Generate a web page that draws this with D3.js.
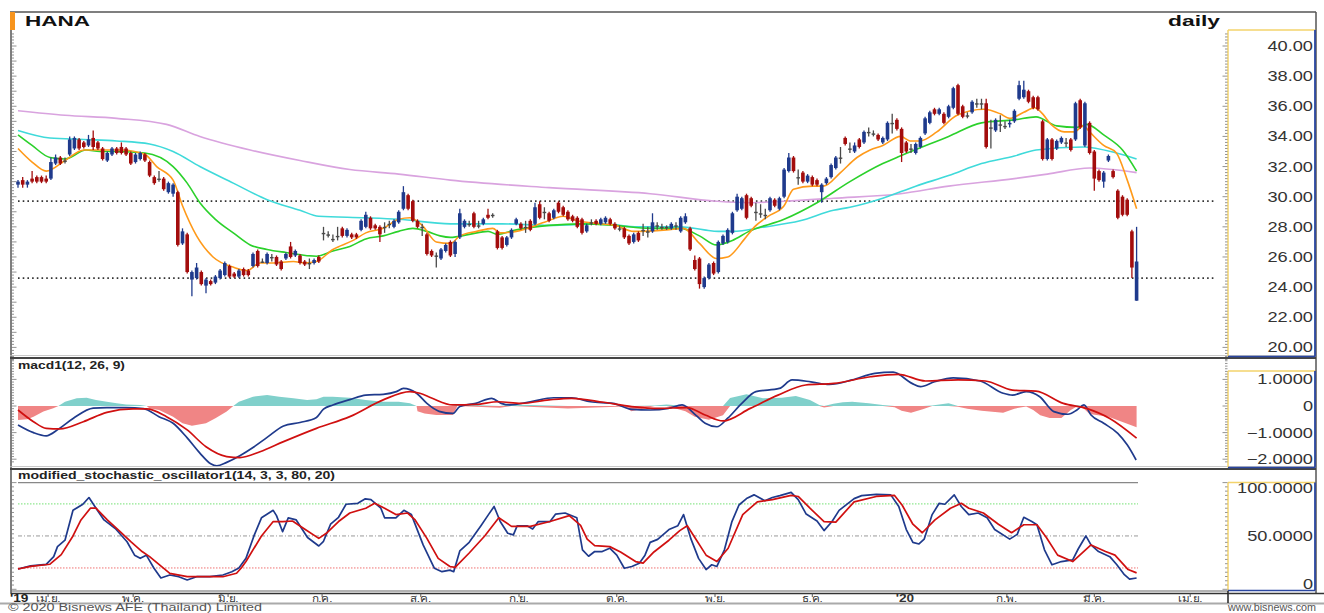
<!DOCTYPE html>
<html><head><meta charset="utf-8">
<script src="https://cdn.jsdelivr.net/npm/d3@7"></script>
<style>
html,body{margin:0;padding:0;background:#fff;overflow:hidden;}
svg{display:block;}
text{font-family:"Liberation Sans",Arial,sans-serif;}
</style></head><body>
<svg id="c" width="1324" height="613"></svg>
<script>
// ---------------- DATA ----------------
const symbol = "HANA";
const period = "daily";
// daily candles [open, high, low, close], late Mar 2019 .. mid Mar 2020
const candles = [
[30.8,31.1,30.6,31.0],[31.1,31.3,30.6,30.8],[30.8,31.1,30.6,31.0],[31.2,31.7,30.9,31.0],[31.3,31.4,30.9,31.0],
[31.3,31.4,30.9,31.0],[31.2,31.4,30.9,31.0],[31.2,32.6,31.1,32.3],[32.2,32.8,32.1,32.6],[32.6,32.7,32.1,32.2],
[32.4,32.6,32.2,32.4],[32.8,34.0,32.7,33.8],[33.2,34.0,33.1,33.9],[33.8,33.9,33.1,33.2],[33.6,33.7,33.2,33.3],
[33.4,34.1,33.3,33.8],[33.9,34.4,33.1,33.3],[33.6,33.7,33.1,33.2],[33.2,33.3,32.4,32.5],[32.4,33.0,32.3,32.9],
[32.8,33.3,32.7,33.2],[33.2,33.3,32.8,32.9],[33.3,33.6,32.8,32.9],[33.2,33.3,32.7,32.8],[32.9,33.0,32.1,32.2],
[32.3,32.9,32.2,32.8],[32.5,33.0,32.4,32.9],[32.8,32.9,32.3,32.4],[32.3,32.4,31.3,31.4],[31.3,31.4,30.8,30.9],
[31.2,31.7,31.0,31.2],[31.2,31.3,30.4,30.5],[30.3,31.0,30.2,30.9],[30.2,30.9,30.0,30.8],[30.3,30.4,26.7,26.8],
[26.9,27.9,26.8,27.7],[27.5,27.6,24.9,25.0],[24.5,25.1,23.4,25.0],[24.6,25.6,24.5,25.3],[25.0,25.1,24.1,24.2],
[24.1,24.6,23.6,24.5],[24.4,24.5,24.1,24.2],[24.3,24.8,24.2,24.7],[24.6,25.2,24.5,25.1],[24.8,25.7,24.7,25.6],
[25.4,25.5,24.6,24.7],[24.9,25.0,24.6,24.7],[24.7,25.2,24.6,25.1],[25.2,25.3,24.7,24.8],[25.1,25.2,24.7,24.8],
[25.4,26.3,25.3,26.2],[26.4,26.5,25.3,25.4],[25.7,25.9,25.6,25.7],[25.6,26.3,25.5,26.2],[26.0,26.2,25.7,26.0],
[26.0,26.1,25.4,25.5],[25.7,25.8,25.1,25.2],[25.9,26.3,25.8,26.2],[26.7,27.0,25.9,26.0],[26.1,26.5,26.0,26.4],
[26.1,26.2,25.5,25.6],[25.7,25.8,25.4,25.5],[25.6,25.9,25.2,25.6],[25.6,25.9,25.5,25.8],[26.0,26.1,25.6,25.7],
[27.6,28.0,27.1,27.6],[27.5,27.7,27.3,27.5],[27.2,27.5,27.0,27.2],[27.4,28.0,27.1,27.4],[27.9,28.0,27.3,27.4],
[27.4,27.9,27.3,27.8],[27.5,27.6,27.2,27.3],[27.5,27.6,27.2,27.3],[27.8,28.5,27.7,28.4],[28.0,29.0,27.9,28.8],
[28.6,28.7,27.8,27.9],[28.1,28.2,27.8,27.9],[28.0,28.1,27.0,27.5],[28.0,28.3,27.6,28.0],[28.2,28.4,27.9,28.2],
[28.0,28.5,27.9,28.4],[28.3,29.1,28.2,29.0],[29.2,30.7,29.1,30.3],[30.1,30.2,29.1,29.2],[29.7,29.8,28.3,28.4],
[28.4,28.5,27.9,28.0],[28.0,28.2,27.4,28.0],[27.5,27.6,26.1,26.2],[26.4,26.5,26.0,26.1],[26.1,26.3,25.3,26.1],
[25.9,26.6,25.8,26.5],[26.4,26.9,26.3,26.8],[27.0,27.1,26.0,26.1],[26.2,27.1,26.0,27.0],[27.3,29.2,27.2,28.9],
[28.0,28.5,27.9,28.4],[28.2,28.4,28.0,28.2],[28.9,29.0,27.9,28.0],[28.1,28.4,27.9,28.1],[28.2,28.6,28.1,28.5],
[28.8,29.2,28.5,28.6],[28.8,28.9,28.6,28.8],[27.7,27.8,26.5,26.6],[27.3,27.4,26.5,26.6],[26.8,27.4,26.7,27.3],
[27.3,27.9,27.2,27.8],[28.2,28.6,28.1,28.5],[28.2,28.3,27.8,27.9],[28.0,28.4,27.6,28.0],[28.4,28.5,27.7,27.8],
[28.2,29.6,28.1,29.3],[29.5,29.7,28.5,28.6],[29.0,29.3,28.5,29.0],[28.9,29.0,28.3,28.4],[28.6,29.2,28.5,29.1],
[29.6,29.7,28.9,29.0],[29.3,29.4,28.7,28.8],[29.0,29.1,28.4,28.5],[28.7,28.8,28.3,28.4],[28.6,28.7,27.9,28.0],
[28.5,28.6,27.5,27.6],[27.7,28.2,27.6,28.1],[28.3,28.5,28.1,28.3],[28.4,28.5,28.1,28.2],[28.2,28.6,28.1,28.5],
[28.3,28.7,28.2,28.6],[28.5,28.6,28.1,28.2],[28.2,28.3,27.8,27.9],[27.9,28.1,27.7,27.9],[27.9,28.0,27.2,27.3],
[27.4,27.5,26.8,26.9],[27.0,27.6,26.9,27.5],[27.6,27.7,27.0,27.1],[27.8,28.2,27.4,27.8],[27.7,28.0,27.3,27.7],
[27.7,28.9,27.6,28.3],[28.1,28.3,27.8,28.1],[28.0,28.2,27.8,28.0],[28.0,28.1,27.8,28.0],[27.9,28.3,27.8,28.2],
[28.1,28.3,27.8,28.1],[27.7,28.7,27.6,28.6],[28.3,28.9,28.2,28.7],[27.9,28.0,26.4,26.5],[25.8,26.1,25.1,25.2],
[25.9,26.0,23.9,24.2],[24.0,24.7,23.9,24.6],[24.6,25.6,24.5,25.5],[25.6,25.7,24.8,24.9],[25.0,27.1,24.9,27.0],
[26.9,27.5,26.8,27.4],[27.0,27.9,26.9,27.8],[27.6,29.0,27.5,28.9],[29.1,30.2,29.0,30.0],[29.2,30.0,29.1,29.9],
[30.1,30.2,28.5,28.6],[29.9,30.0,29.3,29.4],[29.0,29.6,28.4,29.0],[28.9,29.5,28.6,28.9],[28.8,29.2,28.5,28.8],
[29.1,30.0,29.0,29.9],[29.8,29.9,29.3,29.4],[29.2,30.0,29.1,29.9],[30.0,31.9,29.9,31.8],[31.7,32.9,31.6,32.6],
[32.6,32.7,31.6,31.7],[31.3,31.8,30.8,31.3],[31.6,31.7,30.9,31.0],[31.0,31.5,30.9,31.4],[31.3,31.4,30.7,30.8],
[31.1,31.2,30.7,30.8],[30.3,30.9,29.6,30.8],[30.9,31.3,30.8,31.2],[31.3,32.2,31.2,32.1],[31.9,32.7,31.8,32.6],
[32.6,33.3,32.2,32.6],[33.9,34.0,33.4,33.5],[33.2,33.6,32.9,33.2],[33.0,33.6,32.9,33.4],[33.8,33.9,33.2,33.3],
[33.6,34.4,33.5,34.3],[34.3,34.6,34.0,34.3],[34.2,34.4,34.0,34.2],[34.1,34.2,33.7,33.8],[33.6,34.0,33.5,33.9],
[33.8,35.0,33.7,34.9],[34.9,35.5,34.2,34.9],[35.1,35.2,34.4,34.5],[34.5,34.6,32.3,32.9],[33.6,33.7,32.9,33.0],
[33.2,33.5,32.9,33.2],[32.9,33.6,32.8,33.5],[33.3,34.0,33.2,33.9],[34.2,35.3,34.1,35.2],[34.9,35.7,34.8,35.6],
[35.8,35.9,35.4,35.5],[35.5,35.9,35.4,35.8],[35.5,35.6,34.8,34.9],[35.3,36.1,35.2,36.0],[35.9,37.3,35.8,37.2],
[37.4,37.5,35.4,35.5],[36.0,36.1,35.2,35.3],[35.4,35.6,35.2,35.4],[35.6,36.4,35.5,36.3],[36.2,36.5,35.9,36.2],
[36.2,36.5,35.8,36.2],[36.2,36.5,33.2,33.3],[34.6,35.1,33.2,34.6],[34.4,35.2,34.3,35.1],[34.8,35.4,34.3,34.8],
[34.7,35.0,34.5,34.7],[34.8,35.1,34.6,34.9],[35.0,35.8,34.9,35.7],[36.5,37.7,36.4,37.4],[36.6,37.7,36.5,37.1],
[37.0,37.1,36.2,36.3],[36.6,36.7,35.8,35.9],[36.6,36.7,35.7,35.8],[35.0,35.1,32.4,32.5],[32.5,33.9,32.4,33.8],
[33.8,33.9,32.4,32.5],[33.2,33.8,33.1,33.7],[33.6,34.0,33.5,33.9],[33.6,33.9,33.3,33.6],[33.8,33.9,33.0,33.1],
[33.8,36.3,33.7,36.2],[36.4,36.5,34.5,34.6],[33.4,36.3,33.3,36.2],[34.9,35.0,32.8,32.9],[33.0,33.1,30.4,31.2],
[31.7,31.8,31.0,31.1],[31.0,31.7,30.6,31.6],[32.4,32.8,32.3,32.7],[31.7,31.8,31.2,31.3],[30.4,30.5,28.5,28.6],
[30.0,30.1,28.7,28.8],[29.8,29.9,28.7,28.8],[27.7,27.8,24.6,25.3],[23.1,28.0,23.1,25.7]
];
// moving averages, sampled [bar index, value]
const maFast = [[0,33.2],[3,32.3],[6,31.7],[10,32.4],[14,33.1],[18,33.1],[22,33.1],[27,32.8],[29.5,32.0],[33,31.1],[35,29.4],[38,27.4],[41.5,26.0],[46,25.3],[48.7,25.1],[51.5,25.6],[54,25.6],[58.6,25.7],[61,25.6],[63.5,25.7],[67,26.5],[71.3,27.1],[74,27.6],[77.7,27.9],[81,28.5],[83.4,28.6],[86,28.1],[89,27.0],[92,26.9],[94,27.4],[97.6,27.7],[101,27.9],[102.6,27.6],[106,27.7],[112,28.3],[116,28.7],[119,28.4],[124,28.2],[127,28.1],[131,27.7],[138,27.8],[141.6,27.9],[145,26.9],[148.6,25.9],[151,26.0],[154.6,27.2],[156.7,28.0],[159.6,28.7],[163,29.4],[165,30.5],[169,30.7],[171.4,30.7],[175,31.6],[178.5,32.6],[181.3,33.1],[184,33.4],[187.8,34.0],[189.8,33.7],[191.9,33.7],[195.5,34.3],[199.8,35.4],[205.5,35.8],[209,35.5],[211,35.2],[214,35.6],[216.3,35.9],[217.7,35.6],[219.8,34.8],[222.6,34.3],[224.7,34.3],[226.7,34.7],[228,34.3],[231,33.4],[233.7,32.9],[235.9,31.2],[238,29.2]];
const maMid = [[0,34.1],[3,33.4],[6.8,32.6],[10,32.5],[14.5,33.1],[17.4,33.0],[21,33.0],[27,32.9],[33,32.0],[36,30.9],[38.7,29.6],[42,28.5],[45.8,27.6],[49.4,26.8],[53,26.5],[57,26.3],[63.5,26.05],[67,26.4],[70.6,26.7],[74,27.2],[77.7,27.4],[81,27.7],[84,27.9],[87,27.7],[89.8,27.4],[92,27.3],[96,27.5],[100,27.7],[102,27.5],[106,27.8],[113,28.1],[120,28.2],[127,28.1],[134.5,27.9],[141,27.9],[145,27.4],[148.6,26.8],[152,27.1],[155.5,27.7],[163,28.5],[170,29.6],[177,31.0],[184,32.2],[187.7,32.7],[198,34.0],[205,34.9],[212,35.1],[216.6,35.3],[221,34.7],[225.3,34.6],[227.4,34.8],[231,34.1],[235,33.1],[238,31.7]];
const maSlow = [[0,34.4],[6.8,33.9],[14,33.8],[21,33.7],[28,33.5],[33,33.0],[38.7,32.0],[45.8,30.9],[53,29.8],[60,29.1],[64,28.7],[74,28.6],[81,28.5],[92,28.2],[103,28.2],[113,28.1],[124,28.2],[132,28.0],[141,28.0],[146,27.8],[149,27.7],[152,27.7],[159,28.0],[166.4,28.4],[173.5,29.1],[177,29.3],[184,29.9],[191,30.7],[198,31.4],[205,32.2],[212,32.7],[216.6,33.1],[226.6,33.3],[233.7,32.9],[238,32.5]];
const maLong = [[0,35.7],[10,35.4],[21,35.2],[31.6,34.8],[38.7,34.0],[49.4,33.1],[60,32.4],[70.6,31.8],[81,31.5],[92,31.1],[113,30.6],[134.5,30.2],[148.6,29.7],[155.5,29.6],[163,29.7],[173.5,29.9],[187.8,30.2],[198,30.7],[212,31.2],[219,31.5],[228,31.9],[238,31.6]];
const supportLevels = [29.7, 24.6];
// MACD(12,26,9) sampled [bar index, value]
const macdLine = [[0,-0.71],[3.3,-1.0],[6,-1.12],[8.6,-0.87],[11.8,-0.46],[16,-0.08],[18.9,-0.06],[23,-0.06],[26.7,-0.1],[30,-0.4],[33,-0.65],[36,-1.2],[38.7,-1.77],[41,-2.17],[42.3,-2.25],[44.4,-2.12],[47.2,-1.87],[50,-1.56],[53,-1.18],[56.5,-0.75],[60,-0.62],[63.5,-0.43],[65,-0.12],[67,0.04],[70.6,0.24],[74,0.41],[77.7,0.44],[80.5,0.54],[82,0.66],[84.8,0.48],[87,0.1],[89.6,-0.2],[92.5,-0.28],[94,-0.02],[97.4,0.1],[100.8,0.29],[102.8,0.1],[104.7,0.04],[109,0.16],[114,0.31],[117.8,0.31],[121.8,0.16],[126.6,0.1],[130.6,-0.13],[134.5,-0.15],[138.4,-0.09],[141.3,0.04],[144.2,-0.34],[146.2,-0.65],[148.7,-0.78],[151,-0.46],[154,0.1],[157,0.54],[162,0.66],[164.7,0.98],[168.7,0.91],[172.6,0.81],[177.5,0.98],[182.3,1.23],[186.2,1.27],[190.2,0.85],[192,0.73],[195,0.91],[199,1.06],[204.7,0.94],[209.6,0.48],[211.6,0.41],[214.5,0.54],[217.4,0.35],[220.4,-0.21],[223.4,-0.31],[225.3,-0.15],[226.8,0.04],[228.3,-0.34],[231,-0.65],[234,-1.03],[236,-1.46],[237.9,-2.03]];
const macdSignal = [[0,-0.15],[3.3,-0.59],[6,-0.84],[8.9,-0.86],[13.9,-0.59],[18.9,-0.24],[24.5,-0.11],[27.4,-0.11],[31.6,-0.4],[36,-0.9],[40,-1.53],[44.4,-1.9],[47.2,-1.94],[51.5,-1.72],[56.5,-1.34],[63.5,-0.84],[70.6,-0.4],[77.7,0.23],[83.4,0.54],[85.5,0.48],[88,0.3],[92.5,0.04],[97.4,0.06],[102.2,0.16],[107,0.1],[113,0.23],[117.8,0.29],[124.6,0.14],[130.6,-0.02],[136.4,-0.09],[142.3,-0.06],[146.2,-0.34],[150,-0.56],[155.8,-0.09],[161.7,0.41],[167.6,0.79],[173.6,0.85],[181.4,1.1],[187.3,1.19],[193.1,0.94],[200,0.98],[205.8,0.94],[211.6,0.6],[216.6,0.56],[222.4,0.1],[227.3,-0.09],[232.2,-0.46],[238,-1.21]];
const macdHist = [[0,-0.53],[2,-0.5],[3.3,-0.4],[5.4,-0.21],[7.5,-0.08],[8.6,0],[10,0.16],[12.5,0.29],[14.6,0.31],[16.6,0.23],[18.9,0.16],[21,0.1],[23,0.06],[26,0.04],[27.4,0],[28,-0.09],[30,-0.15],[33,-0.4],[35,-0.65],[37,-0.74],[40,-0.65],[42,-0.46],[44.4,-0.21],[45.8,0],[47,0.16],[50,0.35],[53,0.41],[55.6,0.35],[58.6,0.29],[61.5,0.23],[63.5,0.25],[65,0.35],[67,0.35],[70.6,0.31],[74,0.23],[77.7,0.16],[81,0.16],[83.4,0.1],[84.8,0],[85,-0.2],[86.5,-0.28],[89,-0.34],[92.5,-0.34],[93.5,0.06],[102.5,-0.07],[105,0.06],[117,-0.09],[129,-0.02],[130.5,-0.2],[135.5,0.02],[138,0.06],[142,-0.2],[144,-0.4],[147,-0.52],[150,-0.35],[151.5,0.3],[155,0.44],[158.5,0.29],[162.5,0.31],[165.5,0.38],[168.5,0.23],[170.5,0.04],[171.5,-0.06],[173.5,0.08],[175.5,0.14],[177.5,0.16],[181,0.1],[184,0.04],[186.5,-0.05],[188,-0.18],[190,-0.25],[192.5,-0.12],[194.5,0.02],[196,0.06],[198,0.1],[200,-0.03],[202,-0.1],[205,-0.18],[209.6,-0.25],[212,-0.1],[214.5,-0.02],[216,-0.15],[217.5,-0.35],[219.5,-0.45],[222,-0.45],[224,-0.15],[225.5,0.03],[226.5,-0.06],[228,-0.3],[232,-0.4],[235,-0.6],[238,-0.8]];
// modified stochastic oscillator (14,3,3,80,20), sampled [bar index, value]
const stochK = [[0,19],[2.7,22],[6,23.4],[7.6,30.6],[8.4,40],[10,46],[11.7,74],[13.8,79.7],[15.1,86],[16.6,76],[18.3,65],[20.7,57],[23.2,44.6],[24.8,32],[26,29],[27.3,32],[28.9,20],[30.4,10.6],[32.3,13.4],[34.2,11.8],[36,8.7],[38,11.8],[40.8,11.8],[43.6,13.4],[45.5,16.5],[47,20],[48.5,29],[50.2,50],[51.8,67],[54.3,74],[55,69],[56.3,54],[57.5,67],[59.2,65],[61.6,48.5],[64,40.6],[65,45],[66.5,61],[68.2,67.5],[69.8,79.7],[72.3,80.6],[73.9,84.8],[75.1,84],[77.2,76],[78,67],[80.4,67],[82.1,74],[83.7,70],[86.2,41.6],[88.6,19.7],[90.2,16.5],[91.9,18],[92.7,16.5],[94,36],[96,44],[98.5,59.6],[100.1,70],[101.3,77.6],[102.6,63.5],[104.2,52.5],[105.4,51],[106.2,59.5],[108.3,59.5],[109.5,56.5],[110.7,63.5],[113.2,63.5],[114.4,70.5],[116.4,71.5],[118.9,67],[120.1,37],[121.4,31],[122.7,35.4],[124.3,35.4],[125.9,38.5],[127.4,32],[129,19.7],[130.6,21.4],[132.2,24.5],[133.4,32],[134.5,44],[136.1,46.8],[138.5,56],[140.4,59.6],[141.6,70],[143.2,47],[144.8,29],[146.4,18.5],[147.6,23],[148.7,21.4],[150.3,37],[151.9,63.5],[153.4,79],[155,85],[156.6,88.5],[158.9,83],[160.5,86],[162.1,87.8],[164.5,90.8],[166,84],[167.7,70.5],[170,64],[171.5,55],[173.2,63.5],[174.7,74],[177.9,85],[179.5,87.8],[182.6,89],[185.7,88.5],[187.4,77.6],[189,56],[190.4,44],[191.7,42.5],[192.8,47],[194.5,70],[196,80.6],[197.2,79.7],[199.2,88.5],[200.7,77.6],[202.3,70],[204.3,71.5],[206.2,67],[207.8,56],[211,47],[212.6,51.5],[214,67.5],[215.7,63.5],[216.8,60.5],[218.4,37],[220,23],[222,26],[224.4,27.5],[225.6,38],[227.2,50],[228.3,41.6],[229.9,35.4],[232.3,30.6],[233.8,23],[235.4,13.7],[236.5,9.5],[238,10.6]];
const stochD = [[0,19],[2.7,21.5],[6.8,23.5],[9.2,32.5],[11.7,50],[13.4,65],[15.4,76],[16.6,76],[19,65],[21.5,55],[24,44.6],[26.4,35.4],[28,30.6],[30.5,21.4],[32.3,15],[36,11.8],[40,11.8],[43.6,11.8],[46.5,15],[47.5,20],[48.5,26],[51.8,50],[54.3,63.5],[56.3,63.5],[58.4,64],[60.8,57],[64,47.7],[65.6,52.5],[68.2,63.5],[70.6,71.5],[74,76],[75.9,80.6],[78,76],[80.4,70],[82.9,71.5],[84.5,65],[87,47.7],[89.4,29],[91.9,21.4],[93,20.5],[96,34],[99.3,50],[102.3,67],[105,59],[109,59],[113.2,63.5],[117.3,69],[119.7,60],[121.1,47],[122.7,41],[125.9,40],[128.2,35],[131.4,26],[133,24.5],[135.3,35],[138.5,46],[140.8,55],[142.4,59.6],[144,48.5],[146.4,32],[148.7,26],[151.1,38.5],[154.2,70],[157.3,82],[160.5,84],[164.5,88],[166,87],[168.5,76],[171.5,63.5],[174,63],[177.9,82],[182.6,87],[186.5,88],[188.1,79],[190.4,61],[192.4,53],[195.1,65],[198.4,76],[200.7,80.6],[202.3,76],[205.4,71.5],[208.6,61],[211.4,53],[214,60.5],[216.8,60.5],[218.8,48.5],[221.2,32],[224.4,26],[228.3,41.6],[231.4,35.4],[233.4,32],[236.2,18.5],[238,15.4]];
const stochLevels = [100, 80, 50, 20];
// axis ticks
const priceTicks = [20,22,24,26,28,30,32,34,36,38,40];
const macdTicks = [1,0,-1,-2];
const stochTicks = [100,50,0];
const monthLabels = ["เม.ย.","พ.ค.","มิ.ย.","ก.ค.","ส.ค.","ก.ย.","ต.ค.","พ.ย.","ธ.ค.","'20","ก.พ.","มี.ค.","เม.ย."];
const monthStart = [6.4,24.5,44.7,64.7,85.7,106.6,127.4,148.3,169,188.7,210.4,229,249.4];
const firstYear = "'19";
const macdTitle = "macd1(12, 26, 9)";
const stochTitle = "modified_stochastic_oscillator1(14, 3, 3, 80, 20)";
const copyright = "© 2020 Bisnews AFE (Thailand) Limited";
const website = "www.bisnews.com";

// ---------------- LAYOUT ----------------
const svg = d3.select('#c');
const PL = 12, PR = 1227, AX = 1228, AR = 1315;
const K = 1.3; // horizontal text stretch of the source picture
function stretch(sel, k){ sel.each(function(){ const w=this.getComputedTextLength(); this.setAttribute('textLength', (w*k).toFixed(1)); this.setAttribute('lengthAdjust','spacingAndGlyphs'); }); }
function fitTo(sel, w){ sel.attr('textLength', w).attr('lengthAdjust','spacingAndGlyphs'); }

const x = d3.scaleLinear().domain([0, candles.length-1]).range([18, 1136.6]);
const yMain = d3.scaleLinear().domain([20,40]).range([347.4,46]);
const yMacd = d3.scaleLinear().domain([-2,1]).range([459.2,379.4]);
const yStoch = d3.scaleLinear().domain([0,100]).range([589.3,482.6]);

const defs = svg.append('defs');
defs.append('clipPath').attr('id','cpMain').append('rect').attr('x',PL).attr('y',13).attr('width',PR-PL).attr('height',344);
defs.append('clipPath').attr('id','cpMacd').append('rect').attr('x',PL).attr('y',359).attr('width',PR-PL).attr('height',109);
defs.append('clipPath').attr('id','cpStoch').append('rect').attr('x',PL).attr('y',470).attr('width',PR-PL).attr('height',121);

// ---- main panel
const gMain = svg.append('g').attr('clip-path','url(#cpMain)');
gMain.selectAll('line.sup').data(supportLevels).join('line')
  .attr('x1', x(0)).attr('x2', 1215).attr('y1', d=>yMain(d)).attr('y2', d=>yMain(d))
  .attr('stroke','#333').attr('stroke-width',1.7).attr('stroke-dasharray','1.6,3.1');
const maLine = d3.line().x(d=>x(d[0])).y(d=>yMain(d[1])).curve(d3.curveMonotoneX);
[[maLong,'#d9a3df'],[maSlow,'#3fdada'],[maMid,'#2bd12b'],[maFast,'#ff9a1a']].forEach(([data,col])=>{
  gMain.append('path').attr('d', maLine(data)).attr('fill','none').attr('stroke',col).attr('stroke-width',1.6);
});
const cg = gMain.append('g');
const colOf = d => Math.abs(d[3]-d[0])<0.05 ? '#4a4a4a' : (d[3]>d[0] ? '#1f3a8c' : '#a30d0d');
cg.selectAll('line.w').data(candles).join('line')
  .attr('x1',(d,i)=>x(i)).attr('x2',(d,i)=>x(i)).attr('y1',d=>yMain(d[1])).attr('y2',d=>yMain(d[2]))
  .attr('stroke',colOf).attr('stroke-width',1.3);
cg.selectAll('rect.b').data(candles).join('rect')
  .attr('x',(d,i)=>x(i)-1.8).attr('width',3.6)
  .attr('y',d=>yMain(Math.max(d[0],d[3])))
  .attr('height',d=>Math.max(1.4, Math.abs(yMain(d[0])-yMain(d[3]))))
  .attr('fill',colOf);

// ---- MACD panel
const gMacd = svg.append('g').attr('clip-path','url(#cpMacd)');
const aPos = d3.area().x(d=>x(d[0])).y0(yMacd(0)).y1(d=>yMacd(Math.max(0,d[1])));
const aNeg = d3.area().x(d=>x(d[0])).y0(yMacd(0)).y1(d=>yMacd(Math.min(0,d[1])));
gMacd.append('path').attr('d',aPos(macdHist)).attr('fill','#80d0cb');
gMacd.append('path').attr('d',aNeg(macdHist)).attr('fill','#f08585');
const mLine = d3.line().x(d=>x(d[0])).y(d=>yMacd(d[1])).curve(d3.curveMonotoneX);
gMacd.append('path').attr('d',mLine(macdLine)).attr('fill','none').attr('stroke','#1f3a8c').attr('stroke-width',1.7);
gMacd.append('path').attr('d',mLine(macdSignal)).attr('fill','none').attr('stroke','#d01010').attr('stroke-width',1.7);

// ---- Stochastic panel
const gSto = svg.append('g').attr('clip-path','url(#cpStoch)');
const lvlStyle = {100:['#888',1.2,null],80:['#8fe88f',1.2,'1.5,1.5'],50:['#999',1,'4,2,1,2'],20:['#f07070',1,'1.5,1.5']};
gSto.selectAll('line.lv').data(stochLevels).join('line')
  .attr('x1',x(0)).attr('x2',1138).attr('y1',d=>yStoch(d)).attr('y2',d=>yStoch(d))
  .attr('stroke',d=>lvlStyle[d][0]).attr('stroke-width',d=>lvlStyle[d][1]).attr('stroke-dasharray',d=>lvlStyle[d][2]);
const sLine = d3.line().x(d=>x(d[0])).y(d=>yStoch(d[1]));
gSto.append('path').attr('d',sLine(stochK)).attr('fill','none').attr('stroke','#1f3a8c').attr('stroke-width',1.7).attr('stroke-linejoin','round');
gSto.append('path').attr('d',sLine(stochD)).attr('fill','none').attr('stroke','#d01010').attr('stroke-width',1.7).attr('stroke-linejoin','round');

// ---- frames
const fr = svg.append('g');
fr.append('line').attr('x1',10).attr('x2',1316).attr('y1',12).attr('y2',12).attr('stroke','#555').attr('stroke-width',1.5);
fr.append('line').attr('x1',11).attr('x2',11).attr('y1',12).attr('y2',594).attr('stroke','#555').attr('stroke-width',1.5);
fr.append('line').attr('x1',1316).attr('x2',1316).attr('y1',12).attr('y2',594).attr('stroke','#555').attr('stroke-width',1.5);
fr.append('rect').attr('x',10).attr('y',12).attr('width',5).attr('height',18).attr('fill','#f7941d');
[358, 469].forEach(yy=>{
  fr.append('line').attr('x1',10).attr('x2',1316).attr('y1',yy).attr('y2',yy).attr('stroke','#444').attr('stroke-width',2);
  fr.append('line').attr('x1',10).attr('x2',1316).attr('y1',yy-2.5).attr('y2',yy-2.5).attr('stroke','#bbb').attr('stroke-width',0.8);
});
function axisBox(y0,y1){
  fr.append('line').attr('x1',AX).attr('x2',AR).attr('y1',y0).attr('y2',y0).attr('stroke','#f3d36b').attr('stroke-width',1.5);
  fr.append('line').attr('x1',AX).attr('x2',AX).attr('y1',y0).attr('y2',y1).attr('stroke','#f3d36b').attr('stroke-width',1.5);
  fr.append('line').attr('x1',AR).attr('x2',AR).attr('y1',y0).attr('y2',y1).attr('stroke','#2a46a0').attr('stroke-width',1.8);
  fr.append('line').attr('x1',AX).attr('x2',AR).attr('y1',y1).attr('y2',y1).attr('stroke','#2a46a0').attr('stroke-width',1.5);
}
axisBox(30,356.5); axisBox(371,467.5); axisBox(482.5,590.5);

function comb(scale, lo, hi, step, majorEvery, xr, dir){
  const n = Math.round((hi-lo)/step);
  for(let j=0;j<=n;j++){
    const v = lo + j*step;
    const major = Math.abs(v/majorEvery - Math.round(v/majorEvery)) < 1e-6;
    const len = major ? 5 : 2.5;
    fr.append('line').attr('x1',xr).attr('x2',xr+dir*len).attr('y1',scale(v)).attr('y2',scale(v))
      .attr('stroke','#777').attr('stroke-width',0.8);
  }
}
comb(yMain, 19.2, 40.8, 0.2, 1, 11.5, 1);
comb(yMain, 19.2, 40.8, 0.2, 2, AX-0.5, -1);
comb(yMacd, -2.1, 1.7, 0.1, 1, 11.5, 1);
comb(yMacd, -2.1, 1.7, 0.1, 1, AX-0.5, -1);
comb(yStoch, 0, 100, 4, 50, 11.5, 1);
comb(yStoch, 0, 100, 4, 50, AX-0.5, -1);

// ---- value labels
const lab = svg.append('g').attr('fill','#333').attr('font-size',14);
lab.selectAll('text.p').data(priceTicks).join('text')
  .attr('x',1313).attr('y',d=>yMain(d)+5).attr('text-anchor','end').text(d3.format('.2f'))
  .call(stretch, K);
lab.selectAll('text.m').data(macdTicks).join('text')
  .attr('x',1313).attr('y',d=>yMacd(d)+5).attr('text-anchor','end').text(d=> d===0 ? '0' : d3.format('.4f')(d))
  .call(stretch, K);
lab.selectAll('text.s').data(stochTicks).join('text')
  .attr('x',1313).attr('y',d=>Math.min(584, Math.max(488, yStoch(d)))+5).attr('text-anchor','end')
  .text(d=> d===0 ? '0' : d3.format('.4f')(d))
  .call(stretch, K);

// ---- titles
svg.append('text').attr('x',25).attr('y',26).attr('font-size',15).attr('font-weight','bold').attr('fill','#111').text(symbol).call(fitTo,65);
svg.append('text').attr('x',1168).attr('y',26).attr('font-size',15).attr('font-weight','bold').attr('fill','#111').text(period).call(fitTo,52);
svg.append('text').attr('x',18).attr('y',369).attr('font-size',10.5).attr('font-weight','bold').attr('fill','#222').text(macdTitle).call(fitTo,107);
svg.append('text').attr('x',18).attr('y',479).attr('font-size',10.5).attr('font-weight','bold').attr('fill','#222').text(stochTitle).call(fitTo,317);

// ---- x axis
const xa = svg.append('g');
xa.append('line').attr('x1',11).attr('x2',AX).attr('y1',591).attr('y2',591).attr('stroke','#666').attr('stroke-width',1);
xa.append('line').attr('x1',11).attr('x2',AX).attr('y1',593.5).attr('y2',593.5).attr('stroke','#333').attr('stroke-width',1.5);
xa.append('line').attr('x1',0).attr('x2',1324).attr('y1',603.5).attr('y2',603.5).attr('stroke','#aaa').attr('stroke-width',2);
xa.append('line').attr('x1',AX).attr('x2',AX).attr('y1',591).attr('y2',603).attr('stroke','#222').attr('stroke-width',1.5);
xa.append('line').attr('x1',AX).attr('x2',1324).attr('y1',593.5).attr('y2',593.5).attr('stroke','#333').attr('stroke-width',1.5);
xa.selectAll('line.t').data(monthStart).join('line')
  .attr('x1',d=>x(d)).attr('x2',d=>x(d)).attr('y1',593.5).attr('y2',597).attr('stroke','#555').attr('stroke-width',1);
xa.selectAll('text.mo').data(monthLabels).join('text')
  .attr('x',(d,i)=>x(monthStart[i])).attr('y',601.5).attr('text-anchor','middle')
  .attr('font-size',d=>d.startsWith("'")?10.5:9).attr('font-weight',d=>d.startsWith("'")?'bold':'normal')
  .attr('fill','#333')
  .style('font-family','"Liberation Sans","DejaVu Sans","Noto Sans",sans-serif')
  .text(d=>d).call(stretch, K);
xa.append('text').attr('x',10).attr('y',601.5).attr('font-size',10.5).attr('font-weight','bold').attr('fill','#222').text(firstYear).call(stretch,K);

// ---- footer
svg.append('text').attr('x',8).attr('y',611).attr('font-size',10).attr('fill','#555').text(copyright).call(fitTo,254);
svg.append('text').attr('x',1316).attr('y',611).attr('text-anchor','end').attr('font-size',10).attr('fill','#555').text(website).call(fitTo,88);
</script>
</body></html>
